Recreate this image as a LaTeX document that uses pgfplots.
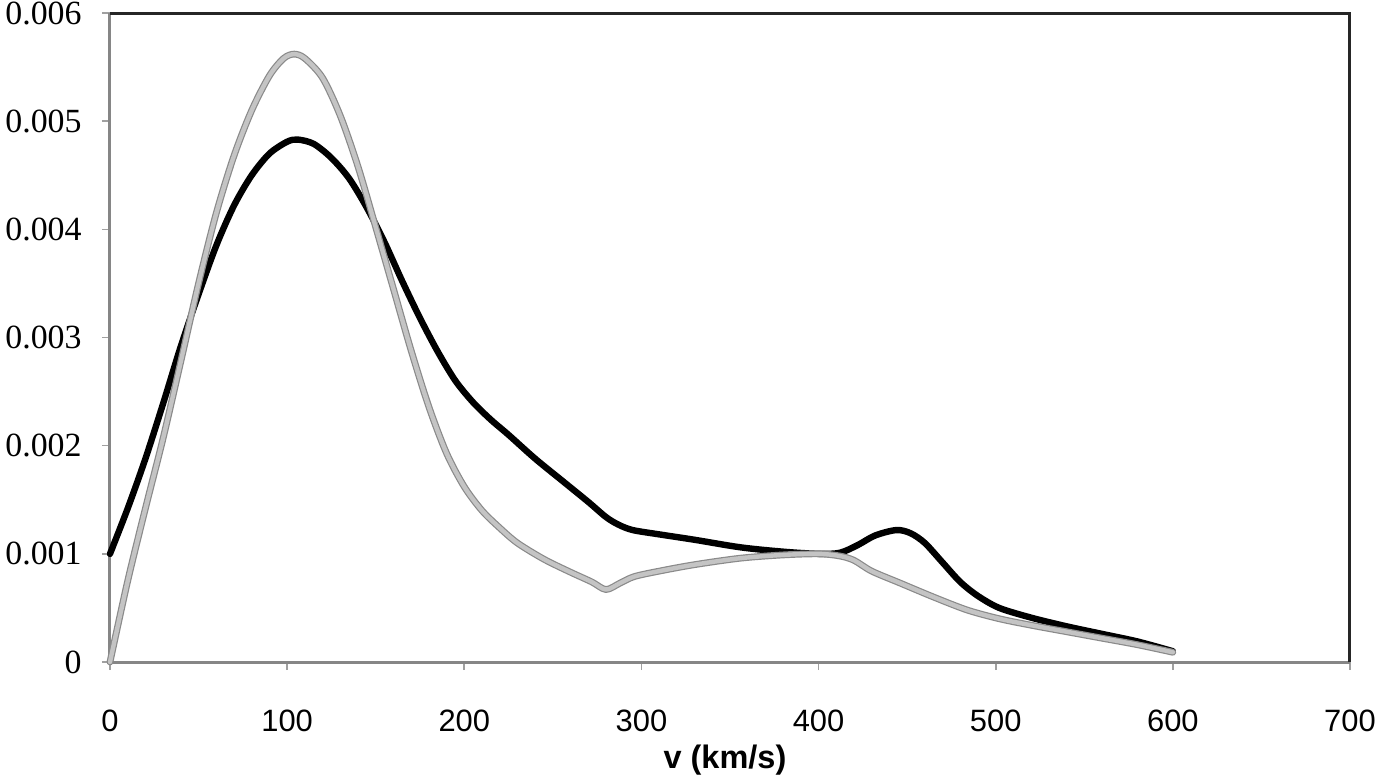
\documentclass[border=0pt]{standalone}
\usepackage{pgfplots}
\pgfplotsset{compat=1.18}
\usepackage{fontspec}
\setmainfont{Liberation Serif}
\setsansfont{Liberation Sans}
\definecolor{axgray}{HTML}{868686}
\definecolor{tickgray}{HTML}{A0A0A0}
\definecolor{curvein}{HTML}{C4C4C4}
\definecolor{curveout}{HTML}{8A8A8A}
\pgfplotstableread{
x y
0 0.00100
10 0.00142
20 0.00188
30 0.00239
40 0.00292
50 0.00340
60 0.00385
70 0.00422
80 0.00450
90 0.00470
100 0.00481
106 0.00483
115 0.00479
125 0.00466
135 0.00447
145 0.00420
155 0.00388
165 0.00352
175 0.00318
185 0.00287
195 0.00260
205 0.00240
215 0.00224
225 0.00210
240 0.00188
255 0.00168
270 0.00148
280 0.00134
287 0.00127
295 0.00122
310 0.00118
330 0.00113
356 0.00106
380 0.00102
400 0.00100
412 0.00101
422 0.00108
432 0.00117
444 0.00122
452 0.00119
460 0.00110
470 0.00092
480 0.00074
490 0.00061
502 0.00050
520 0.00041
540 0.00033
560 0.00026
580 0.00019
600 0.00010
}\blackdata
\pgfplotstableread{
x y
0 0.00000
10 0.00075
20 0.00142
30 0.00207
40 0.00278
50 0.00350
60 0.00415
70 0.00468
80 0.00510
90 0.00542
98 0.00558
104 0.00562
110 0.00558
120 0.00540
130 0.00505
140 0.00458
150 0.00402
160 0.00345
170 0.00288
180 0.00236
190 0.00193
200 0.00162
210 0.00140
220 0.00124
230 0.00110
245 0.00095
260 0.00083
272 0.00074
280 0.00067
288 0.00073
296 0.00079
310 0.00084
330 0.00090
356 0.00096
380 0.00099
400 0.00100
412 0.00098
420 0.00094
430 0.00084
446 0.00073
465 0.00060
484 0.00048
502 0.00040
520 0.00034
540 0.00028
560 0.00022
580 0.00016
600 0.00009
}\graydata
\begin{document}
\begin{tikzpicture}
\useasboundingbox (-55bp,-58bp) rectangle (634bp,331bp);
\begin{axis}[
  at={(0,0)}, anchor=south west,
  scale only axis, width=620bp, height=324.5bp,
  xmin=0, xmax=700, ymin=0, ymax=0.006,
  xtick={0,100,...,700},
  ytick={0,0.001,0.002,0.003,0.004,0.005,0.006},
  yticklabels={0,0.001,0.002,0.003,0.004,0.005,0.006},
  xticklabels={0,100,200,300,400,500,600,700},
  scaled y ticks=false,
  xtick pos=lower, ytick pos=left,
  tick align=outside,
  major tick length=4bp,
  every tick/.style={tickgray, line width=0.8bp},
  axis line style={draw=none},
  clip=false,
  yticklabel style={font=\fontsize{17}{20}\selectfont, inner sep=0pt, anchor=east, xshift=-10bp},
  xticklabel style={font=\sffamily\fontsize{15.5}{18}\selectfont, inner sep=0pt, anchor=north, yshift=-20bp},
  xlabel={\textbf{v (km/s)}},
  xlabel style={font=\sffamily\fontsize{16.3}{19}\selectfont, at={(rel axis cs:0.5,0)}, anchor=base, yshift=-53bp, xshift=-2.5bp, inner sep=0pt},
]
\draw[axgray, line width=1.5bp] (rel axis cs:0,1) -- (rel axis cs:0,0) -- (rel axis cs:1,0);
\draw[black!85, line width=1.5bp] (rel axis cs:0,1) -- (rel axis cs:1,1) -- (rel axis cs:1,0);
\addplot[black, line width=3.2bp, smooth, tension=0.5, line cap=round, line join=round] table[x=x,y=y] {\blackdata};
\addplot[curveout, line width=3.4bp, smooth, tension=0.5, line cap=round, line join=round] table[x=x,y=y] {\graydata};
\addplot[curvein, line width=2.2bp, smooth, tension=0.5, line cap=round, line join=round] table[x=x,y=y] {\graydata};
\end{axis}
\end{tikzpicture}
\end{document}
